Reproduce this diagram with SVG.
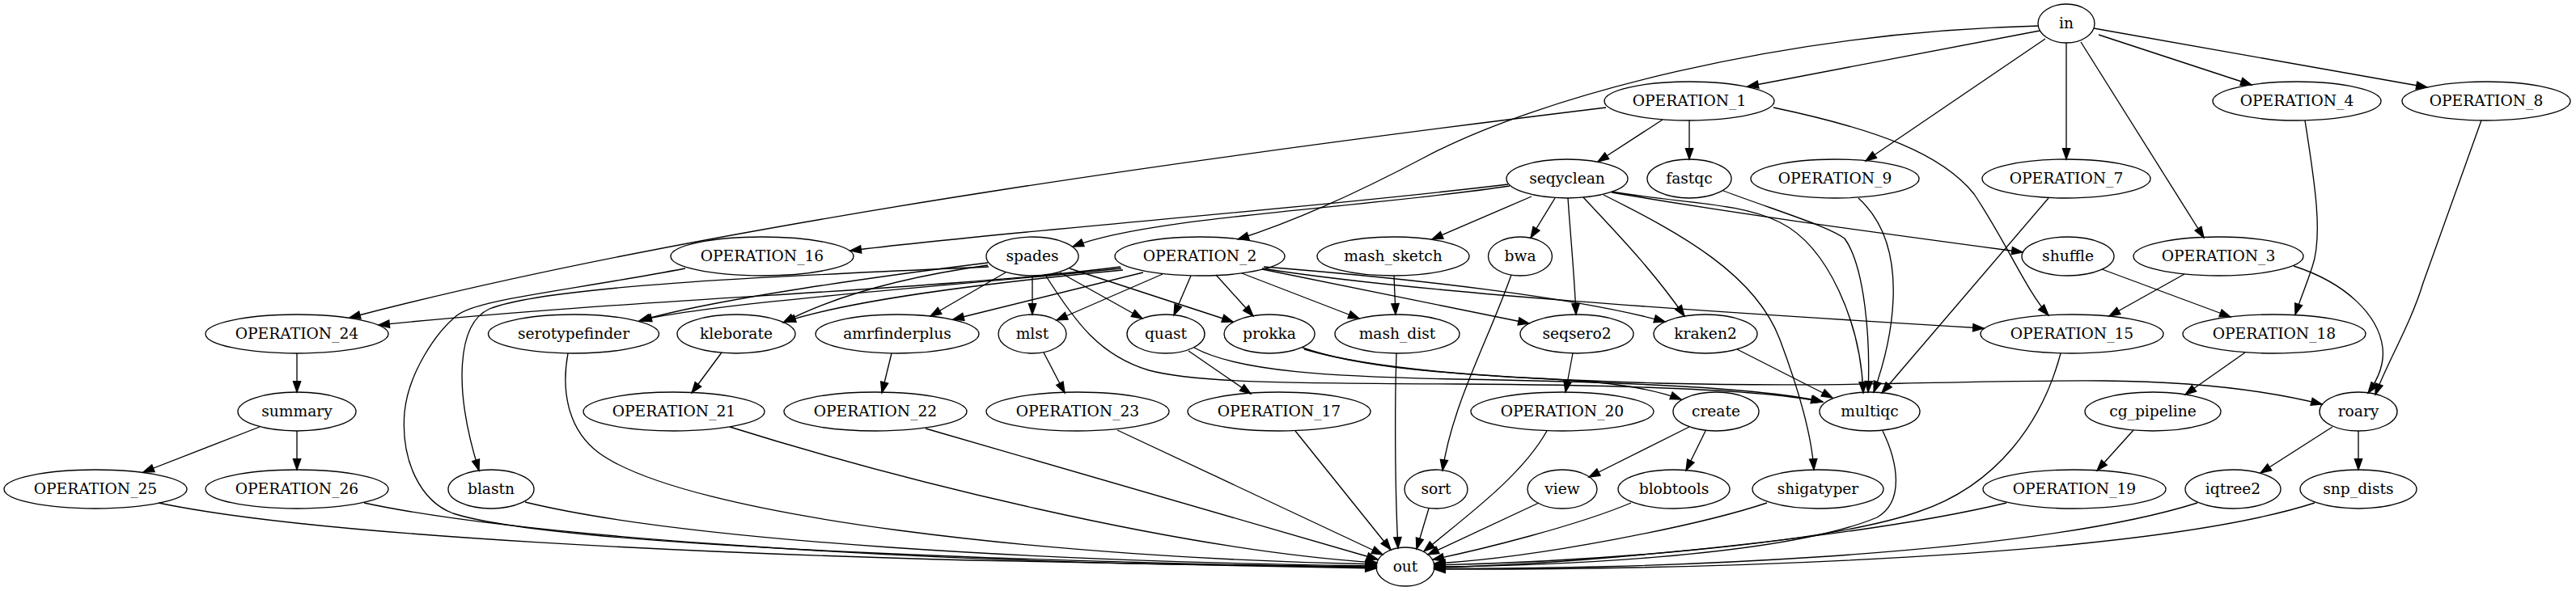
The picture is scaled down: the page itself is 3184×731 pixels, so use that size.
<svg xmlns="http://www.w3.org/2000/svg" width="3184" height="731" viewBox="0 0 3184 731">
<style>
.node ellipse{fill:none;stroke:#000;stroke-width:1.33}
.node text{font-family:"DejaVu Serif","Liberation Serif",serif;font-size:18.67px;text-anchor:middle;fill:#000}
#edges path{fill:none;stroke:#000;stroke-width:1.33;marker-end:url(#arr)}
</style>
<defs>
<marker id="arr" markerUnits="userSpaceOnUse" markerWidth="16" markerHeight="12" refX="13.3" refY="4.7" orient="auto" overflow="visible">
<path d="M0,0 L13.3,4.7 L0,9.3 Z" fill="#000" stroke="#000" stroke-width="1.33"/>
</marker>
</defs>
<rect width="3184" height="731" fill="#fff"/>
<g id="edges">
<path d="M2521,38 L2160,107"/>
<path d="M2520,32 C2200,40 1900,120 1760,195 C1660,248 1580,280 1530,296"/>
<path d="M2528,48 L2306,199"/>
<path d="M2554,53 L2554,197"/>
<path d="M2572,52 L2724,294"/>
<path d="M2594,43 L2783,105"/>
<path d="M2588,35 L3000,108"/>
<path d="M2055,148 L1975,200"/>
<path d="M2088,149 L2088,197"/>
<path d="M1985,133 C1600,180 900,270 432,393"/>
<path d="M2192,133 C2320,160 2400,190 2440,240 C2480,300 2505,360 2532,390"/>
<path d="M1866,230 C1680,258 1420,268 1326,305"/>
<path d="M1864,228 C1600,260 1250,285 1051,310"/>
<path d="M1893,243 L1770,296"/>
<path d="M1922,245 L1892,294"/>
<path d="M1938,245 C1941,290 1946,340 1948,389"/>
<path d="M1957,244 C1990,280 2040,330 2082,391"/>
<path d="M1982,241 C2080,290 2170,340 2200,420 C2230,500 2240,550 2242,581"/>
<path d="M1992,237 C2080,252 2150,250 2200,275 C2260,305 2300,400 2303,486"/>
<path d="M1992,238 C2150,265 2300,285 2500,312"/>
<path d="M2130,236 C2200,262 2260,280 2280,295 C2305,330 2312,420 2309,485"/>
<path d="M2297,245 C2330,275 2342,320 2340,370 C2338,420 2325,460 2316,485"/>
<path d="M2532,245 L2326,486"/>
<path d="M2849,149 C2860,220 2872,290 2858,330 C2850,355 2843,370 2837,389"/>
<path d="M3067,149 L2995,350 C2980,400 2950,450 2936,488"/>
<path d="M2700,339 L2607,391"/>
<path d="M2835,329 C2900,350 2940,390 2945,430 C2948,455 2935,475 2927,486"/>
<path d="M2598,333 L2757,392"/>
<path d="M847,332 C700,360 590,370 565,390 C540,410 505,460 500,510 C495,570 520,620 560,635 C700,680 1400,697 1701,702"/>
<path d="M1221,325 C1100,340 880,370 790,397"/>
<path d="M1221,328 C1100,345 1020,372 968,399"/>
<path d="M1222,330 C1000,340 680,352 605,382 C565,400 560,480 592,582"/>
<path d="M1243,337 L1150,391"/>
<path d="M1276,341 L1276,389"/>
<path d="M1310,337 L1412,394"/>
<path d="M1322,332 L1524,398"/>
<path d="M1292,340 C1330,400 1360,440 1420,458 C1480,474 1600,474 1800,475 C2000,476 2180,482 2252,497"/>
<path d="M1385,330 C1150,360 800,368 468,402"/>
<path d="M1386,332 C1200,352 900,372 792,396"/>
<path d="M1388,334 C1200,352 1050,372 970,398"/>
<path d="M1413,337 L1178,395"/>
<path d="M1437,339 L1306,396"/>
<path d="M1472,341 L1451,390"/>
<path d="M1503,340 L1549,391"/>
<path d="M1535,338 L1680,394"/>
<path d="M1560,333 L1890,400"/>
<path d="M1562,330 C1750,345 1950,368 2058,398"/>
<path d="M1560,332 C1750,362 2100,385 2452,406"/>
<path d="M1723,341 L1725,389"/>
<path d="M1868,340 C1840,420 1795,500 1783,582"/>
<path d="M702,437 C694,480 700,530 740,560 C850,640 1300,690 1701,698"/>
<path d="M892,436 L855,486"/>
<path d="M1102,437 L1090,486"/>
<path d="M1290,436 L1316,486"/>
<path d="M1469,434 L1546,487"/>
<path d="M1476,430 C1530,460 1650,466 1800,469 C2000,472 2180,480 2253,497"/>
<path d="M1610,430 C1680,455 1800,463 1900,468 C1990,472 2040,480 2078,494"/>
<path d="M1612,432 C1700,458 1850,468 2050,474 C2300,480 2400,470 2600,471 C2720,472 2810,485 2870,500"/>
<path d="M1726,437 C1724,500 1724,600 1728,678"/>
<path d="M1944,437 L1935,485"/>
<path d="M2147,432 L2265,492"/>
<path d="M2547,437 C2525,520 2470,600 2371,633 C2250,675 1950,695 1773,699"/>
<path d="M2775,436 L2701,488"/>
<path d="M367,437 L367,485"/>
<path d="M321,528 L177,584"/>
<path d="M367,533 L367,581"/>
<path d="M902,528 C1100,590 1450,680 1702,696"/>
<path d="M1144,530 L1703,692"/>
<path d="M1381,532 L1709,686"/>
<path d="M1601,533 L1719,680"/>
<path d="M1912,533 C1880,590 1810,640 1760,682"/>
<path d="M1766,629 L1751,679"/>
<path d="M1902,622 L1765,686"/>
<path d="M2016,622 C1950,650 1830,680 1771,692"/>
<path d="M2184,622 C2100,650 1900,690 1773,697"/>
<path d="M2327,533 C2345,570 2355,620 2320,640 C2200,690 1900,700 1773,701"/>
<path d="M2480,622 C2300,665 1950,698 1773,702"/>
<path d="M2716,622 C2500,690 2000,705 1773,703"/>
<path d="M2861,622 C2650,690 2100,705 1773,704"/>
<path d="M196,622 C400,665 900,685 1200,693 C1450,699 1600,701 1701,703"/>
<path d="M450,622 C650,665 1100,690 1400,697 C1550,700 1650,700 1701,701"/>
<path d="M649,621 C850,670 1300,695 1701,700"/>
<path d="M2088,528 L1964,590"/>
<path d="M2108,533 L2084,582"/>
<path d="M2637,532 L2592,582"/>
<path d="M2883,528 L2794,585"/>
<path d="M2915,533 L2915,581"/>
</g>
<g id="node-in" class="node"><ellipse cx="2554" cy="29" rx="35" ry="24"/><text x="2554" y="34.6">in</text></g>
<g id="node-OPERATION_1" class="node"><ellipse cx="2088" cy="125" rx="105" ry="24"/><text x="2088" y="130.6">OPERATION_1</text></g>
<g id="node-OPERATION_4" class="node"><ellipse cx="2839" cy="125" rx="104" ry="24"/><text x="2839" y="130.6">OPERATION_4</text></g>
<g id="node-OPERATION_8" class="node"><ellipse cx="3073" cy="125" rx="104" ry="24"/><text x="3073" y="130.6">OPERATION_8</text></g>
<g id="node-seqyclean" class="node"><ellipse cx="1937" cy="221" rx="75" ry="24"/><text x="1937" y="226.6">seqyclean</text></g>
<g id="node-fastqc" class="node"><ellipse cx="2088" cy="221" rx="52" ry="24"/><text x="2088" y="226.6">fastqc</text></g>
<g id="node-OPERATION_9" class="node"><ellipse cx="2268" cy="221" rx="104" ry="24"/><text x="2268" y="226.6">OPERATION_9</text></g>
<g id="node-OPERATION_7" class="node"><ellipse cx="2554" cy="221" rx="104" ry="24"/><text x="2554" y="226.6">OPERATION_7</text></g>
<g id="node-OPERATION_16" class="node"><ellipse cx="942" cy="317" rx="113" ry="24"/><text x="942" y="322.6">OPERATION_16</text></g>
<g id="node-spades" class="node"><ellipse cx="1276" cy="317" rx="57" ry="24"/><text x="1276" y="322.6">spades</text></g>
<g id="node-OPERATION_2" class="node"><ellipse cx="1483" cy="317" rx="105" ry="24"/><text x="1483" y="322.6">OPERATION_2</text></g>
<g id="node-mash_sketch" class="node"><ellipse cx="1722" cy="317" rx="94" ry="24"/><text x="1722" y="322.6">mash_sketch</text></g>
<g id="node-bwa" class="node"><ellipse cx="1879" cy="317" rx="39.5" ry="24"/><text x="1879" y="322.6">bwa</text></g>
<g id="node-shuffle" class="node"><ellipse cx="2556" cy="317" rx="57" ry="24"/><text x="2556" y="322.6">shuffle</text></g>
<g id="node-OPERATION_3" class="node"><ellipse cx="2742" cy="317" rx="105" ry="24"/><text x="2742" y="322.6">OPERATION_3</text></g>
<g id="node-OPERATION_24" class="node"><ellipse cx="367" cy="413" rx="113" ry="24"/><text x="367" y="418.6">OPERATION_24</text></g>
<g id="node-serotypefinder" class="node"><ellipse cx="709" cy="413" rx="105.5" ry="24"/><text x="709" y="418.6">serotypefinder</text></g>
<g id="node-kleborate" class="node"><ellipse cx="910" cy="413" rx="73" ry="24"/><text x="910" y="418.6">kleborate</text></g>
<g id="node-amrfinderplus" class="node"><ellipse cx="1109" cy="413" rx="101" ry="24"/><text x="1109" y="418.6">amrfinderplus</text></g>
<g id="node-mlst" class="node"><ellipse cx="1276" cy="413" rx="42" ry="24"/><text x="1276" y="418.6">mlst</text></g>
<g id="node-quast" class="node"><ellipse cx="1441" cy="413" rx="48" ry="24"/><text x="1441" y="418.6">quast</text></g>
<g id="node-prokka" class="node"><ellipse cx="1569" cy="413" rx="56" ry="24"/><text x="1569" y="418.6">prokka</text></g>
<g id="node-mash_dist" class="node"><ellipse cx="1727" cy="413" rx="77" ry="24"/><text x="1727" y="418.6">mash_dist</text></g>
<g id="node-seqsero2" class="node"><ellipse cx="1949" cy="413" rx="70" ry="24"/><text x="1949" y="418.6">seqsero2</text></g>
<g id="node-kraken2" class="node"><ellipse cx="2108" cy="413" rx="64" ry="24"/><text x="2108" y="418.6">kraken2</text></g>
<g id="node-OPERATION_15" class="node"><ellipse cx="2561" cy="413" rx="113" ry="24"/><text x="2561" y="418.6">OPERATION_15</text></g>
<g id="node-OPERATION_18" class="node"><ellipse cx="2811" cy="413" rx="113" ry="24"/><text x="2811" y="418.6">OPERATION_18</text></g>
<g id="node-summary" class="node"><ellipse cx="367" cy="509" rx="73" ry="24"/><text x="367" y="514.6">summary</text></g>
<g id="node-OPERATION_21" class="node"><ellipse cx="833" cy="509" rx="112" ry="24"/><text x="833" y="514.6">OPERATION_21</text></g>
<g id="node-OPERATION_22" class="node"><ellipse cx="1082" cy="509" rx="113" ry="24"/><text x="1082" y="514.6">OPERATION_22</text></g>
<g id="node-OPERATION_23" class="node"><ellipse cx="1332" cy="509" rx="113" ry="24"/><text x="1332" y="514.6">OPERATION_23</text></g>
<g id="node-OPERATION_17" class="node"><ellipse cx="1581" cy="509" rx="113" ry="24"/><text x="1581" y="514.6">OPERATION_17</text></g>
<g id="node-OPERATION_20" class="node"><ellipse cx="1931" cy="509" rx="113" ry="24"/><text x="1931" y="514.6">OPERATION_20</text></g>
<g id="node-create" class="node"><ellipse cx="2121" cy="509" rx="53" ry="24"/><text x="2121" y="514.6">create</text></g>
<g id="node-multiqc" class="node"><ellipse cx="2311" cy="509" rx="62" ry="24"/><text x="2311" y="514.6">multiqc</text></g>
<g id="node-cg_pipeline" class="node"><ellipse cx="2661" cy="509" rx="84" ry="24"/><text x="2661" y="514.6">cg_pipeline</text></g>
<g id="node-roary" class="node"><ellipse cx="2915" cy="509" rx="48" ry="24"/><text x="2915" y="514.6">roary</text></g>
<g id="node-OPERATION_25" class="node"><ellipse cx="118" cy="605" rx="113" ry="24"/><text x="118" y="610.6">OPERATION_25</text></g>
<g id="node-OPERATION_26" class="node"><ellipse cx="367" cy="605" rx="113" ry="24"/><text x="367" y="610.6">OPERATION_26</text></g>
<g id="node-blastn" class="node"><ellipse cx="607" cy="605" rx="53" ry="24"/><text x="607" y="610.6">blastn</text></g>
<g id="node-sort" class="node"><ellipse cx="1775" cy="605" rx="39" ry="24"/><text x="1775" y="610.6">sort</text></g>
<g id="node-view" class="node"><ellipse cx="1931" cy="605" rx="43" ry="24"/><text x="1931" y="610.6">view</text></g>
<g id="node-blobtools" class="node"><ellipse cx="2069" cy="605" rx="69" ry="24"/><text x="2069" y="610.6">blobtools</text></g>
<g id="node-shigatyper" class="node"><ellipse cx="2247" cy="605" rx="81" ry="24"/><text x="2247" y="610.6">shigatyper</text></g>
<g id="node-OPERATION_19" class="node"><ellipse cx="2564" cy="605" rx="113" ry="24"/><text x="2564" y="610.6">OPERATION_19</text></g>
<g id="node-iqtree2" class="node"><ellipse cx="2760" cy="605" rx="59" ry="24"/><text x="2760" y="610.6">iqtree2</text></g>
<g id="node-snp_dists" class="node"><ellipse cx="2915" cy="605" rx="72" ry="24"/><text x="2915" y="610.6">snp_dists</text></g>
<g id="node-out" class="node"><ellipse cx="1737" cy="701" rx="36" ry="24"/><text x="1737" y="706.6">out</text></g>
</svg>
